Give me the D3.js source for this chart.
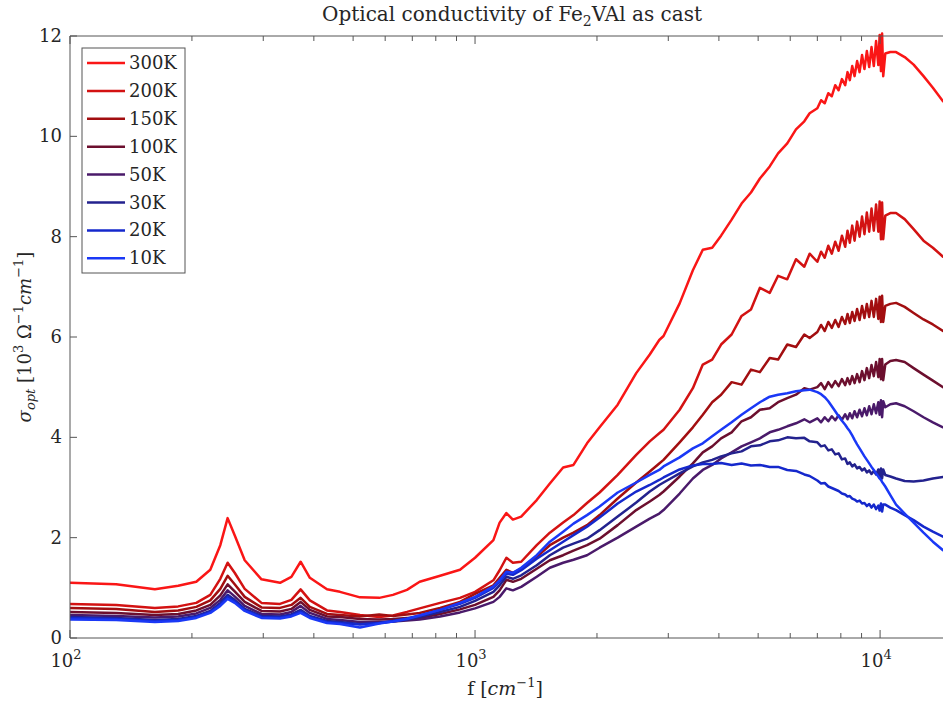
<!DOCTYPE html>
<html><head><meta charset="utf-8">
<script src="https://cdn.jsdelivr.net/npm/d3@7"></script>
<style>
html,body{margin:0;padding:0;background:#fff;}
svg{display:block;}
text{font-family:"DejaVu Serif","Liberation Serif",serif;fill:#262626;}
</style></head>
<body>
<svg id="chart" width="943" height="702"></svg>
<script>
// ---------------- data ----------------
const freq = [100,130,162,185,205,222,235,245,255,270,297,330,352,371,391,431,464,520,580,627,679,730,820,918,1000,1110,1150,1195,1240,1300,1420,1530,1650,1750,1890,2030,2250,2500,2700,2850,2920,3200,3450,3650,3850,4050,4300,4550,4800,5050,
5340,5600,5900,6200,6500,6700,
7000,7150,7300,7450,7600,7750,7900,8050,8200,8310,8420,8535,8650,8775,8900,9025,9150,9275,9400,9525,9650,9775,9900,9975,10050,10115,10180,
10300,10600,10950,11500,12100,12800,13500,14300];

const labels = ["300K","200K","150K","100K","50K","30K","20K","10K"];
const colors = ["#fa1616","#d31212","#a20e10","#6c0f2e","#4a1a6a","#23228e","#1528cc","#1a38f6"];

const s300 = [1.10,1.07,0.97,1.04,1.12,1.36,1.85,2.39,2.05,1.55,
1.17,1.10,1.22,1.52,1.20,0.97,0.92,0.81,0.80,0.86,
0.96,1.12,1.24,1.36,1.60,1.95,2.30,2.49,2.36,2.42,
2.75,3.08,3.40,3.45,3.88,4.20,4.65,5.28,5.65,5.94,
6.02,6.67,7.33,7.74,7.78,8.02,8.34,8.66,8.88,9.16,
9.40,9.66,9.86,10.14,10.30,10.46,
10.56,10.72,10.66,10.86,10.80,11.02,10.92,11.14,11.02,11.28,11.12,11.40,11.20,11.50,11.28,11.62,11.34,11.70,11.38,11.78,11.40,11.90,11.42,12.02,11.30,12.05,11.20,
11.65,11.68,11.68,11.58,11.43,11.20,10.97,10.70];

const s200 = [0.68,0.66,0.60,0.63,0.70,0.86,1.18,1.50,1.30,0.98,
0.70,0.68,0.76,0.97,0.75,0.55,0.52,0.46,0.42,0.45,
0.52,0.59,0.70,0.80,0.92,1.15,1.35,1.60,1.50,1.52,
1.85,2.10,2.30,2.45,2.69,2.90,3.25,3.65,3.92,4.08,
4.15,4.55,4.98,5.45,5.55,5.85,6.05,6.42,6.55,6.98,
6.88,7.22,7.15,7.55,7.40,7.66,
7.50,7.70,7.58,7.82,7.66,7.90,7.72,8.02,7.80,8.12,7.88,8.22,7.92,8.30,8.00,8.40,8.05,8.48,8.10,8.56,8.12,8.64,8.10,8.70,7.95,8.68,7.95,
8.42,8.47,8.47,8.35,8.15,7.92,7.78,7.60];

const s150 = [0.60,0.58,0.52,0.55,0.62,0.75,0.98,1.24,1.07,0.82,
0.61,0.60,0.66,0.80,0.62,0.48,0.46,0.43,0.47,0.44,
0.47,0.50,0.60,0.72,0.88,1.05,1.20,1.36,1.30,1.38,
1.62,1.85,2.00,2.10,2.25,2.45,2.78,3.10,3.32,3.48,
3.55,3.90,4.20,4.45,4.70,4.85,5.10,5.05,5.35,5.30,
5.58,5.55,5.85,5.80,6.05,5.98,
6.10,6.24,6.12,6.30,6.18,6.34,6.20,6.40,6.26,6.46,6.28,6.50,6.32,6.56,6.34,6.62,6.38,6.66,6.40,6.72,6.40,6.76,6.36,6.80,6.30,6.82,6.30,
6.62,6.66,6.68,6.60,6.48,6.35,6.25,6.12];

const s100 = [0.52,0.50,0.46,0.48,0.55,0.66,0.85,1.07,0.93,0.72,
0.54,0.53,0.58,0.72,0.56,0.43,0.42,0.38,0.37,0.38,
0.40,0.40,0.48,0.57,0.66,0.82,0.95,1.16,1.12,1.18,
1.38,1.55,1.65,1.74,1.85,1.98,2.25,2.55,2.72,2.85,
2.92,3.22,3.48,3.70,3.82,3.98,4.10,4.32,4.40,4.55,
4.58,4.70,4.78,4.85,4.98,4.95,
5.00,5.08,4.96,5.10,5.00,5.12,5.02,5.16,5.04,5.18,5.06,5.22,5.08,5.26,5.10,5.32,5.14,5.38,5.18,5.44,5.22,5.50,5.20,5.56,5.16,5.56,5.14,
5.45,5.52,5.54,5.50,5.38,5.25,5.13,5.00];

const s50 = [0.46,0.44,0.41,0.43,0.49,0.60,0.76,0.95,0.83,0.64,
0.48,0.47,0.52,0.64,0.50,0.38,0.36,0.32,0.32,0.33,
0.35,0.37,0.43,0.51,0.59,0.72,0.82,0.99,0.95,1.02,
1.22,1.40,1.50,1.56,1.65,1.80,2.00,2.22,2.38,2.48,
2.55,2.88,3.18,3.35,3.45,3.58,3.70,3.82,3.90,3.98,
4.10,4.15,4.22,4.28,4.36,4.30,
4.38,4.30,4.40,4.32,4.42,4.34,4.44,4.35,4.46,4.36,4.48,4.38,4.52,4.40,4.55,4.42,4.58,4.44,4.62,4.46,4.66,4.48,4.70,4.45,4.74,4.40,4.72,
4.60,4.66,4.68,4.62,4.52,4.40,4.30,4.20];

const s30 = [0.42,0.40,0.36,0.38,0.44,0.54,0.70,0.86,0.76,0.58,
0.44,0.43,0.47,0.56,0.44,0.34,0.32,0.28,0.30,0.33,
0.37,0.42,0.52,0.62,0.74,0.92,1.05,1.22,1.18,1.25,
1.45,1.65,1.80,1.88,1.98,2.15,2.42,2.70,2.92,3.05,
3.10,3.28,3.42,3.50,3.55,3.62,3.68,3.72,3.82,3.84,
3.92,3.94,4.00,3.98,3.99,3.92,
3.90,3.82,3.84,3.74,3.76,3.66,3.68,3.56,3.58,3.47,3.50,3.42,3.46,3.38,3.41,3.34,3.38,3.30,3.34,3.27,3.33,3.26,3.36,3.20,3.38,3.18,3.36,
3.25,3.22,3.18,3.13,3.12,3.14,3.18,3.21];

const s20 = [0.40,0.38,0.34,0.36,0.42,0.52,0.67,0.82,0.73,0.56,
0.42,0.41,0.45,0.53,0.42,0.32,0.30,0.27,0.30,0.34,
0.39,0.45,0.56,0.68,0.80,1.00,1.12,1.28,1.26,1.35,
1.58,1.75,1.92,2.05,2.22,2.40,2.68,2.92,3.05,3.15,
3.20,3.36,3.44,3.47,3.47,3.49,3.45,3.48,3.44,3.45,
3.41,3.41,3.35,3.33,3.26,3.23,
3.14,3.08,3.09,3.02,2.99,2.96,2.93,2.88,2.86,2.82,2.83,2.78,2.76,2.72,2.74,2.68,2.69,2.63,2.67,2.60,2.66,2.57,2.64,2.54,2.68,2.52,2.66,
2.66,2.60,2.55,2.45,2.35,2.22,2.12,2.02];

const s10 = [0.37,0.36,0.32,0.34,0.40,0.50,0.64,0.78,0.70,0.54,
0.40,0.39,0.43,0.50,0.40,0.30,0.28,0.21,0.29,0.33,
0.38,0.45,0.56,0.70,0.82,1.03,1.15,1.32,1.30,1.40,
1.65,1.92,2.12,2.28,2.45,2.62,2.90,3.10,3.25,3.35,
3.42,3.60,3.78,3.88,4.02,4.15,4.30,4.45,4.58,4.70,
4.81,4.85,4.88,4.92,4.94,4.95,
4.90,4.86,4.80,4.72,4.62,4.52,4.42,4.33,4.25,4.18,4.12,4.04,3.95,3.86,3.78,3.70,3.62,3.55,3.48,3.41,3.35,3.28,3.22,3.18,3.15,3.11,3.08,
3.02,2.85,2.66,2.48,2.30,2.10,1.92,1.75];

const series = [s300,s200,s150,s100,s50,s30,s20,s10];
const yTicks = [0,2,4,6,8,10,12];
const xMajor = [100,1000,10000];
const xMinor = [200,300,400,500,600,700,800,900,2000,3000,4000,5000,6000,7000,8000,9000];
const xMajorExp = ["2","3","4"];

// ---------------- layout ----------------
const L = 70, R = 943, T = 36, B = 638;
const svg = d3.select("#chart");
const x = d3.scaleLog().domain([100, 14300]).range([L, R]);
const y = d3.scaleLinear().domain([0, 12]).range([B, T]);
const axisCol = "#555";

svg.append("defs").append("clipPath").attr("id","clip")
  .append("rect").attr("x",L).attr("y",T-4).attr("width",R-L).attr("height",B-T+4);

const line = d3.line().x((d,i)=>x(freq[i])).y(d=>y(d));
const g = svg.append("g").attr("clip-path","url(#clip)");
series.forEach((s,k)=>{
  g.append("path").datum(s).attr("d",line)
    .attr("fill","none").attr("stroke",colors[k]).attr("stroke-width",2.5)
    .attr("stroke-linejoin","round").attr("stroke-linecap","round");
});

// axes box lines
svg.append("line").attr("x1",L).attr("x2",R).attr("y1",B).attr("y2",B).attr("stroke",axisCol).attr("stroke-width",1);
svg.append("line").attr("x1",L).attr("x2",R).attr("y1",T).attr("y2",T).attr("stroke",axisCol).attr("stroke-width",1);
svg.append("line").attr("x1",L).attr("x2",L).attr("y1",T).attr("y2",B).attr("stroke",axisCol).attr("stroke-width",1);

// y ticks
yTicks.forEach(v=>{
  svg.append("line").attr("x1",L).attr("x2",L+7).attr("y1",y(v)).attr("y2",y(v)).attr("stroke",axisCol);
  svg.append("text").attr("x",L-8).attr("y",y(v)+6).attr("text-anchor","end")
    .attr("font-size",18).text(v);
});
// x ticks
xMajor.forEach((v,i)=>{
  svg.append("line").attr("x1",x(v)).attr("x2",x(v)).attr("y1",B).attr("y2",B-8).attr("stroke",axisCol);
  svg.append("line").attr("x1",x(v)).attr("x2",x(v)).attr("y1",T).attr("y2",T+8).attr("stroke",axisCol);
  const t = svg.append("text").attr("x",x(v)-4).attr("y",B+29).attr("text-anchor","middle").attr("font-size",18);
  t.append("tspan").text("10");
  t.append("tspan").attr("dy",-8).attr("font-size",13).text(xMajorExp[i]);
});
xMinor.forEach(v=>{
  svg.append("line").attr("x1",x(v)).attr("x2",x(v)).attr("y1",B).attr("y2",B-5).attr("stroke",axisCol);
  svg.append("line").attr("x1",x(v)).attr("x2",x(v)).attr("y1",T).attr("y2",T+5).attr("stroke",axisCol);
});

// title
const tt = svg.append("text").attr("x",512).attr("y",21).attr("text-anchor","middle").attr("font-size",20);
tt.append("tspan").text("Optical conductivity of Fe");
tt.append("tspan").attr("dy",5).attr("font-size",14).text("2");
tt.append("tspan").attr("dy",-5).text("VAl as cast");

// x label
const xl = svg.append("text").attr("x",505).attr("y",695).attr("text-anchor","middle").attr("font-size",19);
xl.append("tspan").text("f [");
xl.append("tspan").attr("font-style","italic").text("cm");
xl.append("tspan").attr("dy",-8).attr("font-size",13).text("−1");
xl.append("tspan").attr("dy",8).text("]");

// y label
const yl = svg.append("text").attr("transform","translate(31,337) rotate(-90)").attr("text-anchor","middle").attr("font-size",18);
yl.append("tspan").attr("font-style","italic").text("σ");
yl.append("tspan").attr("dy",4).attr("font-size",13).attr("font-style","italic").text("opt");
yl.append("tspan").attr("dy",-4).text(" [10");
yl.append("tspan").attr("dy",-8).attr("font-size",13).text("3");
yl.append("tspan").attr("dy",8).text(" Ω");
yl.append("tspan").attr("dy",-8).attr("font-size",13).text("−1");
yl.append("tspan").attr("dy",8).attr("font-style","italic").text("cm");
yl.append("tspan").attr("dy",-8).attr("font-size",13).text("−1");
yl.append("tspan").attr("dy",8).text("]");

// legend
const lg = svg.append("g");
lg.append("rect").attr("x",82).attr("y",48).attr("width",103).attr("height",225)
  .attr("fill","#fff").attr("stroke",axisCol).attr("stroke-width",1);
labels.forEach((lab,i)=>{
  const yy = 63 + i*27.9;
  lg.append("line").attr("x1",87).attr("x2",125).attr("y1",yy).attr("y2",yy)
    .attr("stroke",colors[i]).attr("stroke-width",2.5);
  lg.append("text").attr("x",129).attr("y",yy+6).attr("font-size",18).text(lab);
});
</script>
</body></html>
